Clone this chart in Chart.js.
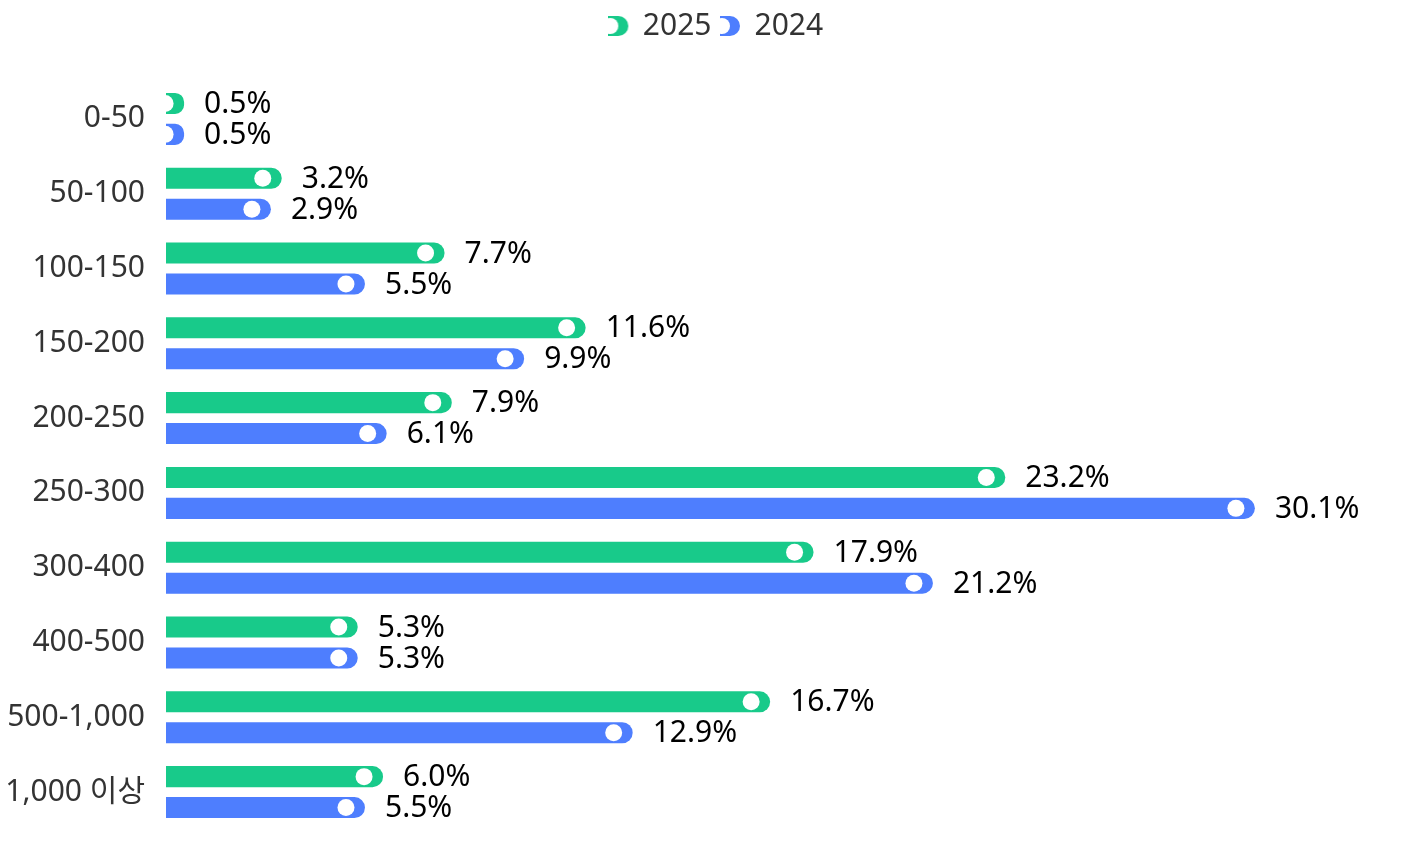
<!DOCTYPE html>
<html>
<head>
<meta charset="utf-8">
<script src="https://cdn.jsdelivr.net/npm/chart.js@4"></script>
<style>
  html, body { margin: 0; padding: 0; background: #fff; }
  #wrap { width: 1401px; height: 845px; }
</style>
</head>
<body>
<div id="wrap"><canvas id="incomeChart"></canvas></div>
<script>
const categories = ['0-50', '50-100', '100-150', '150-200', '200-250', '250-300', '300-400', '400-500', '500-1,000', '1,000 이상'];
const values2025 = [0.5, 3.2, 7.7, 11.6, 7.9, 23.2, 17.9, 5.3, 16.7, 6.0];
const values2024 = [0.5, 2.9, 5.5, 9.9, 6.1, 30.1, 21.2, 5.3, 12.9, 5.5];
const seriesNames = ['2025', '2024'];

const GREEN = '#18ca8a';
const BLUE = '#4e7efe';
const FONT = "'Noto Sans', 'Noto Sans CJK KR', sans-serif";

// legend marker: little bar end with a white dot cut out
function makeIcon(color) {
  const c = document.createElement('canvas');
  c.width = 21; c.height = 22;
  const g = c.getContext('2d');
  g.fillStyle = color;
  g.beginPath();
  g.moveTo(0, 1);
  g.lineTo(10, 1);
  g.arc(10, 11, 10, -Math.PI / 2, Math.PI / 2);
  g.lineTo(0, 21);
  g.closePath();
  g.fill();
  g.fillStyle = '#fff';
  g.beginPath();
  g.arc(2, 11, 8, 0, Math.PI * 2);
  g.fill();
  return c;
}

const barExtras = {
  id: 'barExtras',
  beforeLayout(chart) {
    if (chart.legend && !chart.legend._patched) {
      const fit = chart.legend.fit;
      chart.legend.fit = function () {
        fit.call(this);
        this.height += 30.5;
      };
      chart.legend._patched = true;
    }
  },
  afterLayout(chart) {
    // legend sits a bit right of the canvas centre
    chart.legend.left += 37;
  },
  afterDatasetsDraw(chart) {
    const ctx = chart.ctx;
    ctx.save();
    chart.data.datasets.forEach((ds, i) => {
      const meta = chart.getDatasetMeta(i);
      meta.data.forEach((bar, j) => {
        // white dot near the bar end
        ctx.fillStyle = '#fff';
        ctx.beginPath();
        ctx.arc(bar.x - 19, bar.y, 8.5, 0, Math.PI * 2);
        ctx.fill();
        // value label
        ctx.fillStyle = '#000';
        ctx.font = '30px ' + FONT;
        ctx.textAlign = 'left';
        ctx.textBaseline = 'middle';
        ctx.fillText(ds.data[j].toFixed(1) + '%', bar.x + 20, bar.y + 1);
      });
    });
    ctx.restore();
  }
};

new Chart(document.getElementById('incomeChart').getContext('2d'), {
  type: 'bar',
  data: {
    labels: categories,
    datasets: [{
      label: seriesNames[0],
      data: values2025,
      backgroundColor: GREEN,
      pointStyle: makeIcon(GREEN),
      borderRadius: 11,
      borderSkipped: 'start',
      categoryPercentage: 0.827,
      barPercentage: 0.68
    }, {
      label: seriesNames[1],
      data: values2024,
      backgroundColor: BLUE,
      pointStyle: makeIcon(BLUE),
      borderRadius: 11,
      borderSkipped: 'start',
      categoryPercentage: 0.827,
      barPercentage: 0.68
    }]
  },
  options: {
    indexAxis: 'y',
    responsive: true,
    maintainAspectRatio: false,
    animation: false,
    layout: {
      padding: { top: 1, right: 5, bottom: 15.5, left: 0 }
    },
    plugins: {
      tooltip: { enabled: false },
      legend: {
        position: 'top',
        labels: {
          usePointStyle: true,
          boxWidth: 18,
          boxHeight: 22,
          padding: 10,
          color: '#333',
          font: { family: FONT, size: 30 }
        }
      }
    },
    scales: {
      x: {
        display: false,
        min: 0,
        max: 34
      },
      y: {
        grid: { display: false, drawTicks: false },
        border: { display: false },
        ticks: {
          padding: 21,
          color: '#333',
          font: { family: FONT, size: 30 }
        },
        afterFit(scale) {
          scale.width = 166;
          scale.paddingTop = 0;
          scale.paddingBottom = 0;
        }
      }
    }
  },
  plugins: [barExtras]
});
</script>
</body>
</html>
